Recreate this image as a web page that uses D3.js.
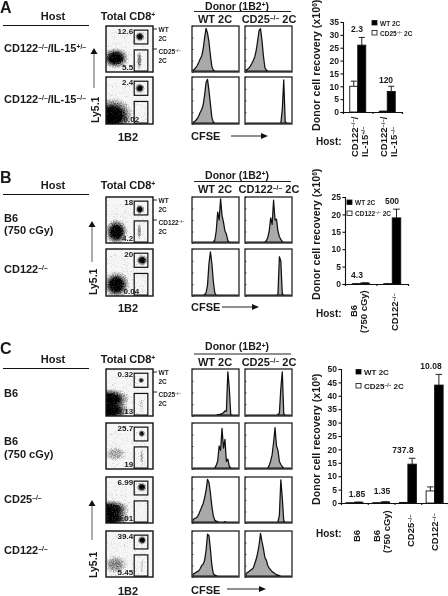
<!DOCTYPE html>
<html>
<head>
<meta charset="utf-8">
<script src="https://cdn.jsdelivr.net/npm/d3@7/dist/d3.min.js"></script>
<style>
  body { margin: 0; background: #fff; }
  svg { display: block; filter: blur(0.3px); }
  text { font-family: "Liberation Sans", Arial, sans-serif; font-weight: bold; fill: #1a1a1a; }
</style>
</head>
<body>
<div id="figure"></div>
<script>
// recovery bars, x10^6 cells
var hostsA = ['CD122^–/–^/|IL-15^+/–^', 'CD122^–/–^/|IL-15^–/–^'];
var wtA = [26, 8];
var wtErrA = [29, 10];
var koA = [10, 0.3];
var koErrA = [12, 0.3];
var foldA = ['2.3', '120'];
var ticksA = [0, 5, 10, 15, 20, 25, 30, 35];

var hostsB = ['B6|(750 cGy)', 'CD122^–/–^'];
var wtB = [0.3, 19];
var wtErrB = [0.3, 21.5];
var koB = [0.1, 0.1];
var koErrB = [0.1, 0.1];
var foldB = ['4.3', '500'];
var ticksB = [0, 5, 10, 15, 20, 25];

var hostsC = ['B6', 'B6|(750 cGy)', 'CD25^–/–^', 'CD122^–/–^'];
var wtC = [0.3, 0.4, 14.5, 44];
var wtErrC = [0.3, 0.4, 16.7, 48];
var koC = [0.1, 0.1, 0.2, 4.5];
var koErrC = [0.1, 0.1, 0.2, 6];
var foldC = ['1.85', '1.35', '737.8', '10.08'];
var ticksC = [0, 5, 10, 15, 20, 25, 30, 35, 40, 45, 50];

// CFSE histograms, % of peak in 32 channels
var cfseA1wt = [2,4,8,13,20,28,34,50,76,97,86,66,35,10,2,0,0,0,0,0,0,0,0,0,0,0,0,0,0,0,0,0];
var cfseA1ko = [2,4,7,11,17,24,32,46,68,92,96,70,34,8,2,0,0,0,0,0,0,0,0,0,0,0,0,0,0,0,0,0];
var cfseA2wt = [1,3,6,10,16,24,30,40,62,90,97,72,42,12,2,0,0,0,0,0,0,0,0,0,0,0,0,0,0,0,0,0];
var cfseA2ko = [0,0,0,0,0,0,0,0,0,0,0,0,0,0,0,0,0,0,0,0,0,0,0,0,0,30,96,3,0,0,0,0];
var cfseB1wt = [0,0,0,0,0,0,0,0,0,0,0,0,0,0,0,4,25,68,50,98,60,45,25,18,3,0,0,0,0,0,0,0];
var cfseB1ko = [0,0,0,0,0,0,0,0,0,0,0,0,0,0,3,10,25,55,40,95,50,52,25,12,6,1,0,0,0,0,0,0];
var cfseB2wt = [0,0,0,0,0,0,0,0,1,5,22,70,96,70,30,5,0,0,0,0,0,0,0,0,0,0,0,0,0,0,0,0];
var cfseB2ko = [0,0,0,0,0,0,0,0,0,0,0,0,0,0,0,0,0,0,0,0,0,0,1,85,75,2,0,0,0,0,0,0];
var cfseC1wt = [0,0,0,0,0,0,0,0,0,0,0,0,0,0,0,0,0,1,1,2,3,5,9,8,96,60,1,0,0,0,0,0];
var cfseC1ko = [0,0,0,0,0,0,0,0,0,0,0,0,0,0,0,0,0,0,0,0,0,0,1,4,60,96,3,0,0,0,0,0];
var cfseC2wt = [0,0,0,0,0,0,0,0,0,0,0,0,0,0,0,0,6,16,50,40,90,45,65,15,20,4,0,0,0,0,0,0];
var cfseC2ko = [0,0,0,0,0,0,0,0,0,0,0,0,0,0,0,0,6,16,30,58,92,50,40,15,8,3,0,0,0,0,0,0];
var cfseC3wt = [5,8,9,12,18,26,34,42,55,72,97,90,66,35,14,4,2,1,0,0,0,0,1,0,0,0,0,0,0,0,0,0];
var cfseC3ko = [0,0,0,0,0,0,0,0,0,0,0,0,0,0,0,0,0,0,0,0,0,0,0,15,96,55,2,0,0,0,0,0];
var cfseC4wt = [4,6,8,10,12,17,24,27,36,58,95,92,60,24,5,2,1,0,0,0,0,0,0,0,0,0,0,0,0,0,0,0];
var cfseC4ko = [5,8,10,13,15,18,28,38,52,70,97,78,62,42,36,24,18,14,10,8,5,3,2,1,0,0,0,0,0,0,0,0];

// flow populations: 1B2, Ly5.1, spread 1B2, spread Ly5.1, density
var facsA1 = [[20, 30, 30, 24, 1], [72, 77, 11, 11, 1], [71, 25, 6, 24, 0.5]];
var facsA2 = [[14, 18, 46, 40, 1], [72, 76, 11, 11, 1]];
var facsB1 = [[22, 24, 26, 30, 1], [72, 73, 10, 11, 1], [71, 26, 5, 22, 0.42]];
var facsB2 = [[22, 24, 30, 30, 1], [77, 76, 13, 12, 1]];
var facsC1 = [[8, 36, 44, 24, 1], [8, 12, 44, 24, 1], [75, 76, 7, 7, 0.85], [75, 24, 5, 22, 0.18]];
var facsC2 = [[20, 33, 26, 18, 0.34], [76, 77, 8, 8, 0.95], [76, 26, 4, 22, 0.32]];
var facsC3 = [[10, 30, 42, 22, 0.95], [10, 10, 42, 22, 0.95], [76, 78, 11, 11, 1]];
var facsC4 = [[20, 27, 28, 22, 0.45], [77, 80, 10, 10, 1], [76, 24, 4, 20, 0.2]];

var gateTop = [60, 89, 61, 91];
var gateLow = [60, 89, 2, 48];

var facsTicks = [0, 25, 50, 75, 100];

var svg = d3.select('#figure').append('svg')
  .attr('width', 448)
  .attr('height', 596);

svg.append('rect').attr('width', 448).attr('height', 596).attr('fill', '#fff');

var defs = svg.append('defs');

var grad = defs.append('radialGradient').attr('id', 'pop');
grad.append('stop').attr('offset', '0%').attr('stop-color', '#000').attr('stop-opacity', 1);
grad.append('stop').attr('offset', '42%').attr('stop-color', '#000').attr('stop-opacity', 0.92);
grad.append('stop').attr('offset', '72%').attr('stop-color', '#000').attr('stop-opacity', 0.36);
grad.append('stop').attr('offset', '100%').attr('stop-color', '#000').attr('stop-opacity', 0);

var grain = defs.append('filter')
  .attr('id', 'grain')
  .attr('x', '0').attr('y', '0').attr('width', '1').attr('height', '1')
  .attr('color-interpolation-filters', 'sRGB');
grain.append('feTurbulence')
  .attr('type', 'fractalNoise')
  .attr('baseFrequency', 0.9)
  .attr('numOctaves', 2)
  .attr('seed', 4)
  .attr('result', 'noise');
grain.append('feColorMatrix')
  .attr('in', 'noise')
  .attr('type', 'matrix')
  .attr('values', '0 0 0 0 0  0 0 0 0 0  0 0 0 0 0  1.6 0 0 0 -0.3')
  .attr('result', 'speck');
grain.append('feComposite')
  .attr('in', 'SourceGraphic')
  .attr('in2', 'speck')
  .attr('operator', 'arithmetic')
  .attr('k1', 0).attr('k2', 1.15).attr('k3', 0.5).attr('k4', -0.32);

// '^' toggles superscript, so the –/– sits above the line
function richText( sel, str ) {
  str.split('^').forEach(function( part, i ) {
    if ( part === '' ) return;
    sel.append('tspan')
      .attr('dy', i % 2 ? '-0.38em' : (i > 0 ? '0.24em' : null))
      .style('font-size', i % 2 ? '62%' : null)
      .text(part);
  });
}

function label( g, x, y, str, size, anchor ) {
  var t = g.append('text')
    .attr('x', x)
    .attr('y', y)
    .attr('text-anchor', anchor || 'start')
    .style('font-size', size + 'px');
  richText(t, str);
  return t;
}

function vlabel( g, x, y, str, size, anchor ) {
  var t = g.append('text')
    .attr('transform', 'translate(' + x + ',' + y + ') rotate(-90)')
    .attr('text-anchor', anchor || 'start')
    .style('font-size', size + 'px');
  richText(t, str);
  return t;
}

function drawFacs( pops, x0, y0, y1, top, low, lowShift ) {
  var x = d3.scaleLinear().domain([0, 100]).range([x0, x0 + 47]);
  var y = d3.scaleLinear().domain([0, 100]).range([y1, y0]);
  var clipId = 'clip' + y0;

  defs.append('clipPath').attr('id', clipId)
    .append('rect')
    .attr('x', x0).attr('y', y0)
    .attr('width', 47).attr('height', y1 - y0);

  svg.append('rect')
    .attr('x', x0).attr('y', y0)
    .attr('width', 47).attr('height', y1 - y0)
    .attr('fill', '#f6f6f6');

  svg.append('g')
    .attr('clip-path', 'url(#' + clipId + ')')
    .append('g')
    .attr('filter', 'url(#grain)')
    .selectAll('ellipse')
    .data(pops)
    .enter().append('ellipse')
      .attr('cx', function( d ) { return x(d[0]); })
      .attr('cy', function( d ) { return y(d[1]); })
      .attr('rx', function( d ) { return x(d[2]) - x(0); })
      .attr('ry', function( d ) { return y(0) - y(d[3]); })
      .attr('fill', 'url(#pop)')
      .attr('opacity', function( d ) { return d[4]; });

  [gateTop, gateLow].forEach(function( gate ) {
    svg.append('rect')
      .attr('x', x(gate[0]))
      .attr('y', y(gate[3]))
      .attr('width', x(gate[1]) - x(gate[0]))
      .attr('height', y(gate[2]) - y(gate[3]))
      .attr('fill', 'none')
      .attr('stroke', '#111')
      .attr('stroke-width', 1.2);
  });

  svg.append('rect')
    .attr('x', x0).attr('y', y0)
    .attr('width', 47).attr('height', y1 - y0)
    .attr('fill', 'none')
    .attr('stroke', '#111')
    .attr('stroke-width', 1.4);

  label(svg, x(gateTop[0]) - 1, y0 + 7.5, top, 8, 'end');
  label(svg, x(gateLow[0]) - 1 + (lowShift || 0), y1 - 2, low, 8, 'end');
}

function drawHist( values, x0, y0, y1 ) {
  var x = d3.scaleLinear().domain([0, values.length - 1]).range([x0 + 1, x0 + 46]);
  var y = d3.scaleLinear().domain([0, 100]).range([y1 - 1, y0 + 1]);

  var area = d3.area()
    .x(function( d, i ) { return x(i); })
    .y0(y(0))
    .y1(function( d ) { return y(d); });

  svg.append('path')
    .datum(values)
    .attr('d', area)
    .attr('fill', '#a9a9a9')
    .attr('stroke', '#111')
    .attr('stroke-width', 1.25)
    .attr('stroke-linejoin', 'round');

  // tiny inward ticks along the frame
  var frameY = d3.scaleLinear().domain(d3.extent(facsTicks)).range([y1, y0]);
  svg.append('g')
    .attr('transform', 'translate(' + x0 + ',0)')
    .call(d3.axisRight(frameY).tickValues(facsTicks).tickSize(1.5).tickFormat(''))
    .call(function( g ) { g.select('.domain').remove(); })
    .selectAll('line').attr('stroke', '#555');

  svg.append('rect')
    .attr('x', x0).attr('y', y0)
    .attr('width', 47).attr('height', y1 - y0)
    .attr('fill', 'none')
    .attr('stroke', '#222')
    .attr('stroke-width', 1.3);
}

function drawBars( o ) {
  var n = o.hosts.length;
  var y = d3.scaleLinear().domain([0, d3.max(o.ticks)]).range([o.y0, o.y1]);
  var x = d3.scaleBand().domain(d3.range(n)).range([o.x0, o.x1]);
  var xEdge = d3.scaleLinear().domain([0, n]).range([o.x0, o.x1]);
  var g = svg.append('g');

  g.append('g')
    .attr('transform', 'translate(' + o.x0 + ',0)')
    .call(d3.axisLeft(y).tickValues(o.ticks).tickSize(2.5).tickPadding(1.5))
    .call(function( a ) {
      a.select('.domain').attr('stroke', '#111').attr('stroke-width', 1.1);
      a.selectAll('line').attr('stroke', '#111').attr('stroke-width', 1.1);
      a.selectAll('text').style('font-size', '8.5px').style('font-family', null);
      a.attr('font-family', null);
    });

  g.append('g')
    .attr('transform', 'translate(0,' + o.y0 + ')')
    .call(d3.axisBottom(xEdge).ticks(n).tickSize(2).tickFormat(''))
    .call(function( a ) {
      a.select('.domain').attr('stroke', '#111').attr('stroke-width', 1.1);
      a.selectAll('line').attr('stroke', '#111').attr('stroke-width', 1.1);
    });

  [{ vals: o.ko, errs: o.koErr, dx: -o.barW, fill: '#fff' },
   { vals: o.wt, errs: o.wtErr, dx: 0, fill: '#000' }].forEach(function( s ) {
    var bars = g.append('g').selectAll('g')
      .data(s.vals)
      .enter().append('g');

    bars.append('line')
      .attr('x1', function( d, i ) { return x(i) + x.bandwidth() / 2 + s.dx + o.barW / 2; })
      .attr('x2', function( d, i ) { return x(i) + x.bandwidth() / 2 + s.dx + o.barW / 2; })
      .attr('y1', function( d ) { return y(d); })
      .attr('y2', function( d, i ) { return y(s.errs[i]); })
      .attr('stroke', '#222').attr('stroke-width', 1);

    bars.append('line')
      .attr('x1', function( d, i ) { return x(i) + x.bandwidth() / 2 + s.dx + 1; })
      .attr('x2', function( d, i ) { return x(i) + x.bandwidth() / 2 + s.dx + o.barW - 1; })
      .attr('y1', function( d, i ) { return y(s.errs[i]); })
      .attr('y2', function( d, i ) { return y(s.errs[i]); })
      .attr('stroke', '#222').attr('stroke-width', 1);

    bars.append('rect')
      .attr('x', function( d, i ) { return x(i) + x.bandwidth() / 2 + s.dx; })
      .attr('y', function( d ) { return y(d); })
      .attr('width', o.barW)
      .attr('height', function( d ) { return y(0) - y(d); })
      .attr('fill', s.fill)
      .attr('stroke', '#111')
      .attr('stroke-width', 0.9);
  });

  o.fold.forEach(function( f, i ) {
    label(g, o.foldPos[i][0], o.foldPos[i][1], f, 8.5, 'middle');
  });

  o.legend.forEach(function( name, i ) {
    g.append('rect')
      .attr('x', o.legX)
      .attr('y', o.legY[i])
      .attr('width', 5)
      .attr('height', 4.5)
      .attr('fill', i ? '#fff' : '#000')
      .attr('stroke', '#111')
      .attr('stroke-width', 0.8);
    label(g, o.legX + 8, o.legY[i] + 5, name, o.legSize);
  });

  vlabel(g, o.titleX, o.titleBottom, 'Donor cell recovery (x10^6^)', 10.7);
  label(g, 316, o.hostY, 'Host:', 10);

  o.hosts.forEach(function( h, i ) {
    h.split('|').forEach(function( line, j ) {
      vlabel(g, o.hostX[i] + j * 10, o.hostBottom[i] + (j ? o.hostStep || 0 : 0), line, 9.5);
    });
  });
}

function arrowUp( x, yTail, yTip ) {
  svg.append('line')
    .attr('x1', x).attr('x2', x)
    .attr('y1', yTail).attr('y2', yTip + 6)
    .attr('stroke', '#777').attr('stroke-width', 1.2);
  svg.append('path')
    .attr('d', d3.line()([[x - 3.5, yTip + 6], [x + 3.5, yTip + 6], [x, yTip]]))
    .attr('fill', '#111');
}

function arrowRight( x0, x1, y ) {
  svg.append('line')
    .attr('x1', x0).attr('x2', x1 - 6)
    .attr('y1', y).attr('y2', y)
    .attr('stroke', '#222').attr('stroke-width', 1);
  svg.append('path')
    .attr('d', d3.line()([[x1 - 7, y - 3], [x1 - 7, y + 3], [x1, y]]))
    .attr('fill', '#111');
}

function gateNotes( y0, name ) {
  svg.append('line').attr('x1', 140).attr('x2', 157).attr('y1', y0 + 3).attr('y2', y0 + 3)
    .attr('stroke', '#111').attr('stroke-width', 0.9);
  svg.append('line').attr('x1', 142).attr('x2', 157).attr('y1', y0 + 23).attr('y2', y0 + 23)
    .attr('stroke', '#111').attr('stroke-width', 0.9);
  label(svg, 158.5, y0 + 6, 'WT', 6.5);
  label(svg, 158.5, y0 + 15, '2C', 6.5);
  label(svg, 158.5, y0 + 28, name, 6.5);
  label(svg, 158.5, y0 + 37, '2C', 6.5);
}

function panelHead( o ) {
  label(svg, 0, o.letterY, o.letter, 16);
  label(svg, 53, o.headY, 'Host', 11, 'middle');
  label(svg, 128, o.headY, 'Total CD8^+^', 11, 'middle');
  svg.append('line').attr('x1', 3).attr('x2', 89).attr('y1', o.headY + 5.5).attr('y2', o.headY + 5.5)
    .attr('stroke', '#111').attr('stroke-width', 1.1);
  label(svg, 237, o.donorY, 'Donor (1B2^+^)', 10.5, 'middle');
  svg.append('line').attr('x1', 194).attr('x2', 291).attr('y1', o.donorLine).attr('y2', o.donorLine)
    .attr('stroke', '#222').attr('stroke-width', 1);
  label(svg, 215, o.colY, 'WT 2C', 11, 'middle');
  label(svg, 269, o.colY, o.koName + ' 2C', 11, 'middle');
  gateNotes(o.rows[0][0], o.koName);
  label(svg, 128, o.footY, '1B2', 11, 'middle');
  label(svg, 191, o.footY - 1, 'CFSE', 11);
  arrowUp(o.arrowX, o.arrowTail, o.arrowTip);
  vlabel(svg, o.arrowX + 5, o.lyBottom, 'Ly5.1', 10.5);
  arrowRight(o.cfseArrow[0], o.cfseArrow[1], o.cfseArrow[2]);
  o.rowLabels.forEach(function( rl ) {
    label(svg, 4, rl[1], rl[0], 11);
  });
  o.rows.forEach(function( r, i ) {
    drawFacs(o.facs[i], 106, r[0], r[1], o.pct[i][0], o.pct[i][1], o.lowShift[i]);
    drawHist(o.wtCfse[i], 192, r[0], r[1]);
    drawHist(o.koCfse[i], 245, r[0], r[1]);
  });
}

panelHead({
  letter: 'A', letterY: 12.5, headY: 20, donorY: 9.5, donorLine: 11.5, colY: 22.5, footY: 141, koName: 'CD25^–/–^',
  rows: [[26, 72], [77, 124]],
  rowLabels: [['CD122^–/–^/IL-15^+/–^', 52], ['CD122^–/–^/IL-15^–/–^', 103]],
  arrowX: 94, arrowTail: 88, arrowTip: 48, lyBottom: 123, cfseArrow: [231, 268, 136],
  facs: [facsA1, facsA2], pct: [['12.6', '5.5'], ['2.4', '0.02']], lowShift: [0, 6],
  wtCfse: [cfseA1wt, cfseA2wt], koCfse: [cfseA1ko, cfseA2ko]
});

panelHead({
  letter: 'B', letterY: 183, headY: 189, donorY: 178.5, donorLine: 181.5, colY: 193, footY: 312, koName: 'CD122^–/–^',
  rows: [[197, 243], [249, 296]],
  rowLabels: [['B6', 222], ['(750 cGy)', 234], ['CD122^–/–^', 273]],
  arrowX: 92, arrowTail: 262, arrowTip: 221, lyBottom: 295, cfseArrow: [222, 259, 307],
  facs: [facsB1, facsB2], pct: [['18', '4.2'], ['20', '0.04']], lowShift: [0, 6],
  wtCfse: [cfseB1wt, cfseB2wt], koCfse: [cfseB1ko, cfseB2ko]
});

panelHead({
  letter: 'C', letterY: 354, headY: 363, donorY: 350, donorLine: 354, colY: 366, footY: 595, koName: 'CD25^–/–^',
  rows: [[369, 416], [423, 469], [477, 523], [531, 577]],
  rowLabels: [['B6', 397], ['B6', 445], ['(750 cGy)', 458], ['CD25^–/–^', 503], ['CD122^–/–^', 554]],
  arrowX: 92, arrowTail: 540, arrowTip: 500, lyBottom: 578, cfseArrow: [227, 266, 589],
  facs: [facsC1, facsC2, facsC3, facsC4],
  pct: [['0.32', '0.13'], ['25.7', '19'], ['6.99', '0.01'], ['39.4', '5.45']], lowShift: [0, 0, 0, 0],
  wtCfse: [cfseC1wt, cfseC2wt, cfseC3wt, cfseC4wt], koCfse: [cfseC1ko, cfseC2ko, cfseC3ko, cfseC4ko]
});

drawBars({
  hosts: hostsA, wt: wtA, wtErr: wtErrA, ko: koA, koErr: koErrA, fold: foldA, ticks: ticksA,
  x0: 343, x1: 402, y0: 112, y1: 22, barW: 8,
  foldPos: [[357, 32], [386, 83]],
  legend: ['WT 2C', 'CD25^–/–^ 2C'], legX: 372, legY: [20.5, 30.5], legSize: 6.5,
  titleX: 320, titleBottom: 131, hostY: 145,
  hostX: [357.5, 387], hostBottom: [157, 157]
});

drawBars({
  hosts: hostsB, wt: wtB, wtErr: wtErrB, ko: koB, koErr: koErrB, fold: foldB, ticks: ticksB,
  x0: 345, x1: 408, y0: 284, y1: 197, barW: 8.5,
  foldPos: [[357, 278], [392, 204]],
  legend: ['WT 2C', 'CD122^–/–^ 2C'], legX: 347, legY: [200, 211], legSize: 6.5,
  titleX: 320, titleBottom: 300, hostY: 317,
  hostX: [357, 398], hostBottom: [317, 331], hostStep: 16
});

drawBars({
  hosts: hostsC, wt: wtC, wtErr: wtErrC, ko: koC, koErr: koErrC, fold: foldC, ticks: ticksC,
  x0: 341, x1: 448, y0: 503, y1: 369, barW: 8.5,
  foldPos: [[357, 497], [382, 494], [403, 453], [431, 369]],
  legend: ['WT 2C', 'CD25^–/–^ 2C'], legX: 356, legY: [369.5, 383.5], legSize: 8,
  titleX: 320, titleBottom: 505, hostY: 537,
  hostX: [360, 380, 414, 438], hostBottom: [542, 542, 547, 551], hostStep: 11
});
</script>
</body>
</html>
